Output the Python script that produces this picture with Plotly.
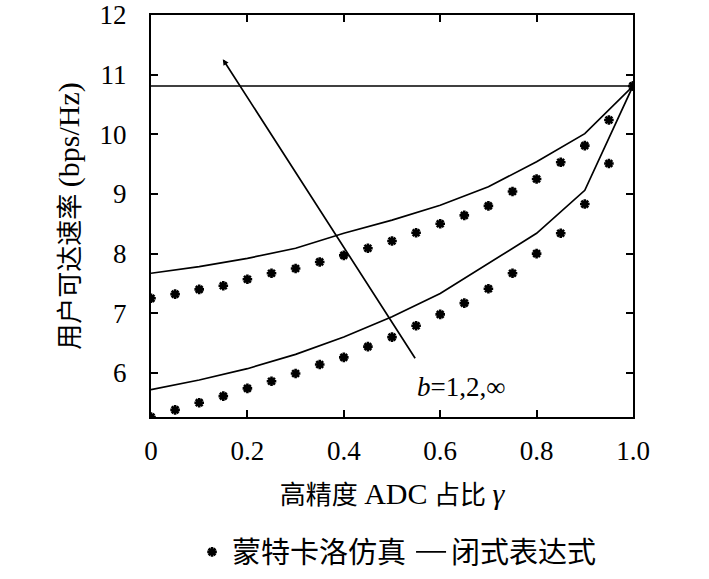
import plotly.graph_objects as go

gamma_sim = [0, 0.05, 0.1, 0.15, 0.2, 0.25, 0.3, 0.35, 0.4, 0.45, 0.5,
             0.55, 0.6, 0.65, 0.7, 0.75, 0.8, 0.85, 0.9, 0.95, 1.0]
sim_upper = [7.25, 7.32, 7.40, 7.46, 7.57, 7.67, 7.75, 7.86, 7.97, 8.09, 8.21,
             8.35, 8.50, 8.64, 8.80, 9.04, 9.25, 9.53, 9.81, 10.24, 10.81]
sim_lower = [5.26, 5.38, 5.50, 5.61, 5.74, 5.86, 5.99, 6.14, 6.26, 6.44, 6.60,
             6.79, 6.98, 7.17, 7.41, 7.67, 8.00, 8.34, 8.83, 9.51, 10.81]

gamma_cf = [0, 0.1, 0.2, 0.3, 0.4, 0.5, 0.6, 0.7, 0.8, 0.9, 1.0]
cf_upper = [7.67, 7.78, 7.92, 8.09, 8.34, 8.56, 8.81, 9.12, 9.54, 10.01, 10.81]
cf_lower = [5.72, 5.88, 6.07, 6.31, 6.60, 6.94, 7.33, 7.83, 8.34, 9.06, 10.81]
cf_inf = [10.81] * len(gamma_cf)

x_ticks = [0, 0.2, 0.4, 0.6, 0.8, 1.0]
x_tick_labels = ["0", "0.2", "0.4", "0.6", "0.8", "1.0"]
y_ticks = [6, 7, 8, 9, 10, 11, 12]

arrow_head = (0.149, 11.26)
arrow_tail = (0.55, 6.22)
label_pos = (0.644, 5.77)

serif = "Liberation Serif"
mixed = "Liberation Serif, Noto Sans CJK SC"
cjk = "Noto Sans CJK SC"

x_title = "高精度 <span style='font-size:30px'>ADC</span> 占比 <span style='font-size:30px'><i>γ</i></span>"
y_title = "用户可达速率 <span style='font-size:30px'>(bps/Hz)</span>"

fig = go.Figure()

marker_style = dict(symbol="asterisk-open", size=8, color="black",
                    line=dict(width=2.6, color="black"))

fig.add_trace(go.Scatter(x=gamma_sim, y=sim_upper, mode="markers",
                         marker=marker_style, name="蒙特卡洛仿真", showlegend=True))
fig.add_trace(go.Scatter(x=gamma_sim, y=sim_lower, mode="markers",
                         marker=marker_style, name="蒙特卡洛仿真", showlegend=False))

line_style = dict(color="black", width=1.7)
fig.add_trace(go.Scatter(x=gamma_cf, y=cf_upper, mode="lines", line=line_style,
                         name="闭式表达式", showlegend=True))
fig.add_trace(go.Scatter(x=gamma_cf, y=cf_lower, mode="lines", line=line_style,
                         name="闭式表达式", showlegend=False))
fig.add_trace(go.Scatter(x=gamma_cf, y=cf_inf, mode="lines", line=line_style,
                         name="闭式表达式", showlegend=False))

fig.add_annotation(x=arrow_head[0], y=arrow_head[1], ax=arrow_tail[0], ay=arrow_tail[1],
                   xref="x", yref="y", axref="x", ayref="y", text="",
                   showarrow=True, arrowhead=2, arrowsize=0.7, arrowwidth=1.7,
                   arrowcolor="black")
fig.add_annotation(x=label_pos[0], y=label_pos[1], xref="x", yref="y",
                   text="<i>b</i>=1,2,∞", showarrow=False,
                   font=dict(family=serif, size=27, color="black"))

axis_common = dict(showline=True, linecolor="black", linewidth=2, mirror="ticks",
                   ticks="inside", ticklen=7, tickwidth=1.5, tickcolor="black",
                   showgrid=False, zeroline=False, automargin=False,
                   ticklabeloverflow="allow",
                   tickfont=dict(family=serif, size=27, color="black"))

fig.update_xaxes(range=[0, 1], tickvals=x_ticks, ticktext=x_tick_labels,
                 ticklabelstandoff=9,
                 title=dict(text=x_title,
                            font=dict(family=mixed, size=26, color="black"), standoff=20),
                 **axis_common)
fig.update_yaxes(range=[5.26, 12], tickvals=y_ticks,
                 ticklabelstandoff=17,
                 title=dict(text=y_title,
                            font=dict(family=mixed, size=26, color="black"), standoff=12),
                 **axis_common)

fig.update_layout(
    width=709, height=579,
    margin=dict(l=151, r=76, t=15, b=162),
    paper_bgcolor="white", plot_bgcolor="white",
    showlegend=True,
    legend=dict(orientation="h", xref="container", yref="container",
                x=0.56, xanchor="center", y=0.0466, yanchor="middle",
                font=dict(family=cjk, size=29, color="black"),
                itemwidth=30, bgcolor="rgba(0,0,0,0)"),
)

fig.write_html("out.html", config={"displayModeBar": False},
               post_script="document.body.style.margin='0';")
